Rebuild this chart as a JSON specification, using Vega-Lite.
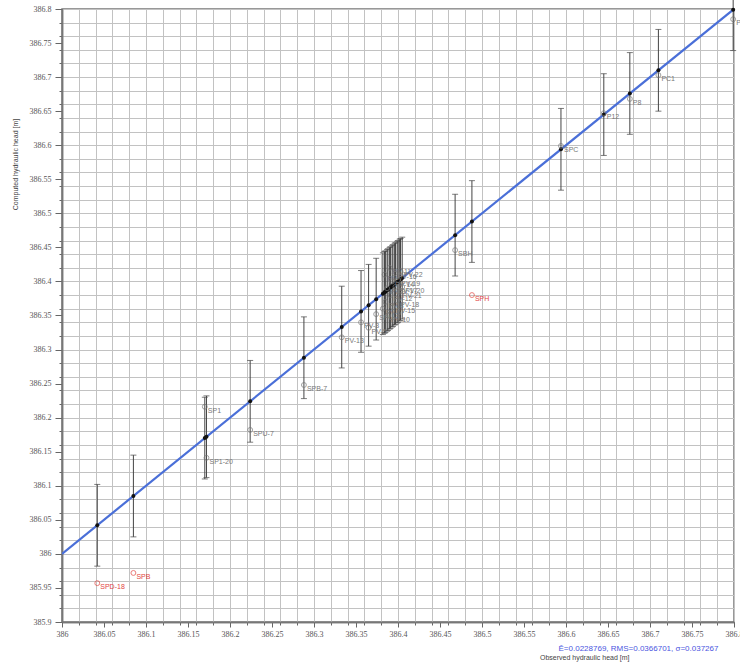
{
  "$schema": "https://vega.github.io/schema/vega-lite/v6.json",
  "width": 672,
  "height": 613,
  "autosize": {"type": "none"},
  "padding": {"left": 62, "top": 9, "right": 6, "bottom": 48},
  "background": "white",
  "title": {
    "text": "Observed hydraulic head [m]",
    "orient": "bottom",
    "anchor": "start",
    "frame": "group",
    "dx": 478,
    "offset": 2,
    "fontSize": 7,
    "fontWeight": "normal",
    "font": "Liberation Sans",
    "color": "#444"
  },
  "config": {
    "view": {"stroke": "#777", "strokeWidth": 1.5},
    "axis": {
      "labelFont": "Liberation Serif",
      "labelFontSize": 8,
      "labelColor": "#555",
      "titleFont": "Liberation Sans",
      "titleFontSize": 7,
      "titleFontWeight": "normal",
      "titleColor": "#444",
      "domainColor": "#777",
      "domainWidth": 1.5,
      "tickColor": "#666",
      "gridColor": "#c2c2c2",
      "gridWidth": 1
    }
  },
  "resolve": {"axis": {"x": "independent", "y": "independent"}},
  "datasets": {
    "pts": [
      {"label": "SPD-18", "obs": 386.042, "comp": 385.957, "lo": 385.982, "hi": 386.102, "st": "out"},
      {"label": "SPB", "obs": 386.085, "comp": 385.972, "lo": 386.025, "hi": 386.145, "st": "out"},
      {"label": "SP1", "obs": 386.170, "comp": 386.216, "lo": 386.110, "hi": 386.230, "st": "ok"},
      {"label": "SP1-20", "obs": 386.172, "comp": 386.141, "lo": 386.112, "hi": 386.232, "st": "ok"},
      {"label": "SPU-7", "obs": 386.224, "comp": 386.182, "lo": 386.164, "hi": 386.284, "st": "ok"},
      {"label": "SPB-7", "obs": 386.288, "comp": 386.248, "lo": 386.228, "hi": 386.348, "st": "ok"},
      {"label": "PV-13", "obs": 386.333, "comp": 386.318, "lo": 386.273, "hi": 386.393, "st": "ok"},
      {"label": "PV-3", "obs": 386.356, "comp": 386.340, "lo": 386.296, "hi": 386.416, "st": "ok"},
      {"label": "PV-5", "obs": 386.365, "comp": 386.332, "lo": 386.305, "hi": 386.425, "st": "ok"},
      {"label": "SPU-3", "obs": 386.374, "comp": 386.352, "lo": 386.314, "hi": 386.434, "st": "ok"},
      {"label": "PV-6", "obs": 386.382, "comp": 386.360, "lo": 386.322, "hi": 386.442, "st": "ok"},
      {"label": "PV-7", "obs": 386.384, "comp": 386.410, "lo": 386.324, "hi": 386.444, "st": "ok"},
      {"label": "PV-8", "obs": 386.385, "comp": 386.370, "lo": 386.325, "hi": 386.445, "st": "ok"},
      {"label": "PV-9", "obs": 386.387, "comp": 386.390, "lo": 386.327, "hi": 386.447, "st": "ok"},
      {"label": "PV-10", "obs": 386.388, "comp": 386.350, "lo": 386.328, "hi": 386.448, "st": "ok"},
      {"label": "PV-11", "obs": 386.390, "comp": 386.420, "lo": 386.330, "hi": 386.450, "st": "ok"},
      {"label": "PV-12", "obs": 386.391, "comp": 386.380, "lo": 386.331, "hi": 386.451, "st": "ok"},
      {"label": "PV-14", "obs": 386.393, "comp": 386.400, "lo": 386.333, "hi": 386.453, "st": "ok"},
      {"label": "PV-15", "obs": 386.394, "comp": 386.362, "lo": 386.334, "hi": 386.454, "st": "ok"},
      {"label": "PV-16", "obs": 386.396, "comp": 386.412, "lo": 386.336, "hi": 386.456, "st": "ok"},
      {"label": "PV-17", "obs": 386.397, "comp": 386.392, "lo": 386.337, "hi": 386.457, "st": "ok"},
      {"label": "PV-18", "obs": 386.399, "comp": 386.372, "lo": 386.339, "hi": 386.459, "st": "ok"},
      {"label": "PV-19", "obs": 386.400, "comp": 386.402, "lo": 386.340, "hi": 386.460, "st": "ok"},
      {"label": "PV-21", "obs": 386.402, "comp": 386.385, "lo": 386.342, "hi": 386.462, "st": "ok"},
      {"label": "PV-22", "obs": 386.403, "comp": 386.415, "lo": 386.343, "hi": 386.463, "st": "ok"},
      {"label": "PV-20", "obs": 386.405, "comp": 386.392, "lo": 386.345, "hi": 386.465, "st": "ok"},
      {"label": "SBH", "obs": 386.468, "comp": 386.446, "lo": 386.408, "hi": 386.528, "st": "ok"},
      {"label": "SPH", "obs": 386.488, "comp": 386.380, "lo": 386.428, "hi": 386.548, "st": "out"},
      {"label": "SPC", "obs": 386.594, "comp": 386.599, "lo": 386.534, "hi": 386.654, "st": "ok"},
      {"label": "P12", "obs": 386.645, "comp": 386.647, "lo": 386.585, "hi": 386.705, "st": "ok"},
      {"label": "P8", "obs": 386.676, "comp": 386.668, "lo": 386.616, "hi": 386.736, "st": "ok"},
      {"label": "PC1", "obs": 386.710, "comp": 386.703, "lo": 386.650, "hi": 386.770, "st": "ok"},
      {"label": "P7", "obs": 386.799, "comp": 386.785, "lo": 386.739, "hi": 386.859, "st": "ok"}
    ],
    "diag": [{"obs": 386.0}, {"obs": 386.8}]
  },
  "layer": [
    {
      "data": {"name": "diag"},
      "mark": {"type": "line", "color": "#4a6fd8", "strokeWidth": 2.2, "clip": true},
      "encoding": {
        "x": {
          "field": "obs", "type": "quantitative",
          "scale": {"domain": [386.0, 386.8], "nice": false, "zero": false},
          "axis": {
            "orient": "bottom",
            "values": [386, 386.02, 386.04, 386.06, 386.08, 386.1, 386.12, 386.14, 386.16, 386.18, 386.2, 386.22, 386.24, 386.26, 386.28, 386.3, 386.32, 386.34, 386.36, 386.38, 386.4, 386.42, 386.44, 386.46, 386.48, 386.5, 386.52, 386.54, 386.56, 386.58, 386.6, 386.62, 386.64, 386.66, 386.68, 386.7, 386.72, 386.74, 386.76, 386.78, 386.8],
            "grid": true,
            "labels": false,
            "ticks": true,
            "tickSize": 3,
            "title": null
          }
        },
        "y": {
          "field": "obs", "type": "quantitative",
          "scale": {"domain": [385.9, 386.8], "nice": false, "zero": false},
          "axis": {
            "orient": "left",
            "values": [385.9, 385.92, 385.94, 385.96, 385.98, 386, 386.02, 386.04, 386.06, 386.08, 386.1, 386.12, 386.14, 386.16, 386.18, 386.2, 386.22, 386.24, 386.26, 386.28, 386.3, 386.32, 386.34, 386.36, 386.38, 386.4, 386.42, 386.44, 386.46, 386.48, 386.5, 386.52, 386.54, 386.56, 386.58, 386.6, 386.62, 386.64, 386.66, 386.68, 386.7, 386.72, 386.74, 386.76, 386.78, 386.8],
            "grid": true,
            "labels": false,
            "ticks": true,
            "tickSize": 3,
            "title": null
          }
        }
      }
    },
    {
      "data": {"name": "pts"},
      "mark": {"type": "rule", "color": "#444", "strokeWidth": 1},
      "encoding": {
        "x": {
          "field": "obs", "type": "quantitative",
          "axis": {
            "orient": "bottom",
            "values": [386, 386.05, 386.1, 386.15, 386.2, 386.25, 386.3, 386.35, 386.4, 386.45, 386.5, 386.55, 386.6, 386.65, 386.7, 386.75, 386.8],
            "format": ".2~f",
            "grid": false,
            "tickSize": 5,
            "labelPadding": 3,
            "labelFlush": false,
            "labelOverlap": false,
            "title": "Ē=0.0228769, RMS=0.0366701, σ=0.037267",
            "titleColor": "#4a55e0",
            "titleFontSize": 8,
            "titleAlign": "left",
            "titleAnchor": "start",
            "titleX": 496,
            "titleY": 26,
            "titleBaseline": "middle"
          }
        },
        "y": {
          "field": "lo", "type": "quantitative",
          "axis": {
            "orient": "left",
            "values": [385.9, 385.95, 386, 386.05, 386.1, 386.15, 386.2, 386.25, 386.3, 386.35, 386.4, 386.45, 386.5, 386.55, 386.6, 386.65, 386.7, 386.75, 386.8],
            "format": ".2~f",
            "grid": false,
            "tickSize": 7,
            "labelPadding": 4,
            "labelFlush": false,
            "labelOverlap": false,
            "title": "Computed hydraulic head [m]",
            "titleAngle": -90,
            "titleAlign": "center",
            "titleAnchor": "middle",
            "titleBaseline": "bottom",
            "titleX": -44,
            "titleY": 155
          }
        },
        "y2": {"field": "hi"}
      }
    },
    {
      "data": {"name": "pts"},
      "mark": {"type": "tick", "orient": "horizontal", "color": "#444", "size": 6, "thickness": 1},
      "encoding": {
        "x": {"field": "obs", "type": "quantitative", "axis": null},
        "y": {"field": "lo", "type": "quantitative", "axis": null}
      }
    },
    {
      "data": {"name": "pts"},
      "mark": {"type": "tick", "orient": "horizontal", "color": "#444", "size": 6, "thickness": 1},
      "encoding": {
        "x": {"field": "obs", "type": "quantitative", "axis": null},
        "y": {"field": "hi", "type": "quantitative", "axis": null}
      }
    },
    {
      "data": {"name": "pts"},
      "mark": {"type": "circle", "color": "#111", "size": 16, "opacity": 1},
      "encoding": {
        "x": {"field": "obs", "type": "quantitative", "axis": null},
        "y": {"field": "obs", "type": "quantitative", "axis": null}
      }
    },
    {
      "data": {"name": "pts"},
      "mark": {"type": "point", "shape": "circle", "filled": false, "size": 24, "strokeWidth": 1},
      "encoding": {
        "x": {"field": "obs", "type": "quantitative", "axis": null},
        "y": {"field": "comp", "type": "quantitative", "axis": null},
        "color": {"field": "st", "type": "nominal", "scale": {"domain": ["ok", "out"], "range": ["#777", "#e2453f"]}, "legend": null}
      }
    },
    {
      "data": {"name": "pts"},
      "mark": {"type": "text", "align": "left", "baseline": "middle", "dx": 3, "dy": 4, "fontSize": 7, "font": "Liberation Sans"},
      "encoding": {
        "x": {"field": "obs", "type": "quantitative", "axis": null},
        "y": {"field": "comp", "type": "quantitative", "axis": null},
        "text": {"field": "label"},
        "color": {"field": "st", "type": "nominal", "scale": {"domain": ["ok", "out"], "range": ["#666", "#e2453f"]}, "legend": null}
      }
    }
  ]
}
